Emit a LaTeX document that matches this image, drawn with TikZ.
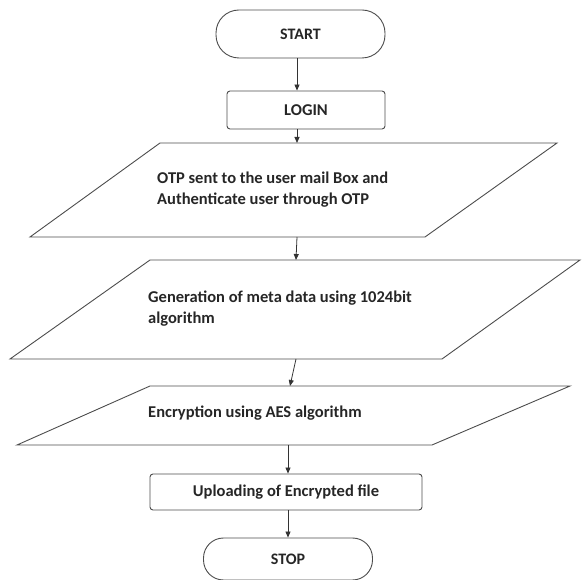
\documentclass[tikz,border=0pt]{standalone}
\usepackage{fontspec}
\setmainfont{Carlito}
\usetikzlibrary{arrows.meta}
\begin{document}
\begin{tikzpicture}[x=1pt,y=-1pt,
  shapeline/.style={draw=black!70, line width=0.9pt},
  lbl/.style={font=\bfseries\fontsize{16.5}{21}\selectfont, text=black!85, inner sep=0pt},
  conn/.style={draw=black!80, line width=0.8pt, -{Triangle[length=6pt,width=5pt]}},
  term/.style={shapeline, rounded corners=23pt, minimum width=169pt, minimum height=48pt, font=\bfseries\fontsize{16}{18}\selectfont, text=black!85},
  procbox/.style={shapeline, rounded corners=3pt, minimum height=38pt, font=\bfseries\fontsize{16.5}{18}\selectfont, text=black!85}
]
\useasboundingbox (0,0) rectangle (582,580);
% terminals and boxes
\node[term] (start) at (300.5,34) {START};
\node[procbox, minimum width=158pt] (login) at (306,110) {LOGIN};
% parallelogram 1
\draw[shapeline] (160,143) -- (557,143) -- (425,237) -- (30,237) -- cycle;
\coordinate (p1t) at (297,143);
\coordinate (p1b) at (297,237);
\node[lbl, anchor=west, align=left] (t1) at (157,190) {OTP sent to the user mail Box and\\Authenticate user through OTP};
% parallelogram 2
\draw[shapeline] (150,260) -- (580,260) -- (442,359) -- (10,359) -- cycle;
\coordinate (p2t) at (296,260);
\coordinate (p2b) at (296,359);
\node[lbl, anchor=west, align=left] (t2) at (148,309) {Generation of meta data using 1024bit\\algorithm};
% parallelogram 3
\draw[shapeline] (150,386) -- (570,386) -- (432,445) -- (17,445) -- cycle;
\coordinate (p3t) at (290,386);
\coordinate (p3b) at (288,445);
\node[lbl, anchor=west] (t3) at (148,413) {Encryption using AES algorithm};
% upload and stop
\node[procbox, minimum width=272pt, minimum height=36pt] (up) at (286,492) {Uploading of Encrypted file};
\node[term, minimum width=169pt, minimum height=42pt, rounded corners=20pt] (stop) at (288,559) {STOP};
% connectors
\draw[conn] (start.south -| 297,0) -- (login.north -| 297,0);
\draw[conn] (login.south -| 297,0) -- (p1t);
\draw[conn] (p1b) -- (p2t);
\draw[conn] (p2b) -- (p3t);
\draw[conn] (p3b) -- (up.north -| p3b);
\draw[conn] (up.south -| p3b) -- (stop.north -| p3b);
\end{tikzpicture}
\end{document}
